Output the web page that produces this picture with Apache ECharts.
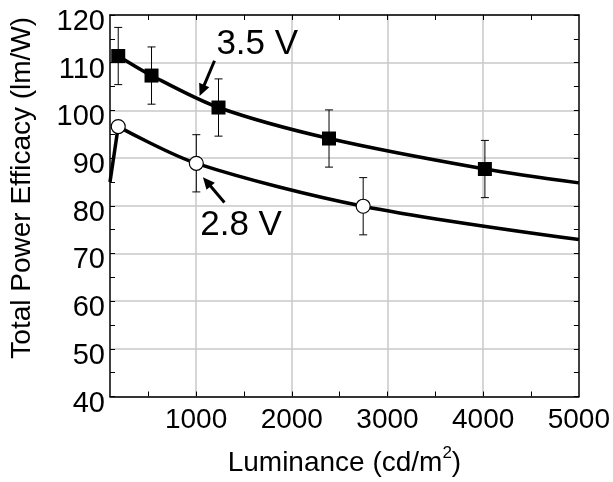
<!DOCTYPE html>
<html><head><meta charset="utf-8">
<script src="https://cdn.jsdelivr.net/npm/echarts@6/dist/echarts.min.js"></script>
<style>html,body{margin:0;padding:0;background:#fff}#c{width:613px;height:482px}</style>
</head><body><div id="c"></div>
<script>
// ---- data ----
const xLabels = [1000, 2000, 3000, 4000, 5000];
const xTicks = [500, 1000, 1500, 2000, 2500, 3000, 3500, 4000, 4500];
const xGrid = [1000, 2000, 3000, 4000];
const lum35 = [186, 534, 1234, 2389, 4018];
const eff35 = [111.4, 107.3, 100.6, 94.1, 87.7];
const err35 = [6, 6, 6, 6, 6];
const lum28 = [186, 1002, 2746];
const eff28 = [96.6, 88.9, 79.9];
const err28 = [0, 6, 6];
const fit35X = [186, 534, 1234, 2389, 4018, 5000];
const fit35Y = [111.4, 107.3, 100.6, 94.1, 87.7, 84.8];
const fit28aX = [100, 186];
const fit28aY = [85.0, 96.6];
const fit28bX = [186, 1002, 2746, 5000];
const fit28bY = [96.6, 88.9, 79.9, 72.9];
const annoText = ['3.5 V', '2.8 V'];
const annoPos = [[1639, 113.8], [1470, 75.9]];
const arrowFrom = [[1192, 110.4], [1296, 80.7]];
const arrowTo = [[1036, 103.0], [1071, 86.0]];

const FF = '"Liberation Sans", Arial, sans-serif';
const pair = (xs, ys) => xs.map((x, i) => [x, ys[i]]);
const errData = (xs, ys, es) => xs.map((x, i) => [x, ys[i] - es[i], ys[i] + es[i]]).filter((d, i) => es[i] > 0);

function errItem(params, api) {
  const x = api.value(0), lo = api.value(1), hi = api.value(2);
  const t = api.coord([x, hi]), b = api.coord([x, lo]);
  const w = 4, st = { stroke: '#000', lineWidth: 1 };
  return { type: 'group', children: [
    { type: 'line', shape: { x1: t[0], y1: t[1], x2: b[0], y2: b[1] }, style: st },
    { type: 'line', shape: { x1: t[0] - w, y1: t[1], x2: t[0] + w, y2: t[1] }, style: st },
    { type: 'line', shape: { x1: b[0] - w, y1: b[1], x2: b[0] + w, y2: b[1] }, style: st }
  ]};
}

const axLine = { show: true, onZero: false, lineStyle: { color: '#000', width: 1.5 } };
const tick = { show: true, inside: true, length: 5, lineStyle: { color: '#000', width: 1 } };

const chart = echarts.init(document.getElementById('c'), null, { renderer: 'canvas' });
chart.setOption({
  animation: false,
  backgroundColor: '#fff',
  grid: { left: 110, top: 15, right: 32, bottom: 79, containLabel: false },
  xAxis: [
    { type: 'value', min: 100, max: 5000, position: 'bottom', axisLine: axLine,
      axisTick: Object.assign({}, tick, { customValues: xTicks }),
      axisLabel: { customValues: xLabels, formatter: v => String(v), fontSize: 28, color: '#000', margin: 10, fontFamily: FF },
      splitLine: { show: false },
      name: 'Luminance (cd/m{sup|2})', nameLocation: 'middle', nameGap: 48,
      nameTextStyle: { fontSize: 28, color: '#000', fontFamily: FF,
        rich: { sup: { fontSize: 17, color: '#000', fontFamily: FF, padding: [0, 0, 20, 0] } } } },
    { type: 'value', min: 100, max: 5000, position: 'top', axisLine: axLine,
      axisTick: Object.assign({}, tick, { customValues: xTicks }),
      axisLabel: { show: false }, splitLine: { show: false } },
    { type: 'value', min: 100, max: 5000, position: 'bottom', axisLine: { show: false },
      axisTick: { show: false, customValues: xGrid }, axisLabel: { show: false },
      splitLine: { show: true, lineStyle: { color: '#c8c8c8', width: 1.5 } } }
  ],
  yAxis: [
    { type: 'value', min: 40, max: 120, interval: 10, position: 'left', axisLine: axLine,
      axisTick: tick, minorTick: { show: true, splitNumber: 2, length: 5, lineStyle: { color: '#000', width: 1 } },
      axisLabel: { fontSize: 29, color: '#000', margin: 5, fontFamily: FF, verticalAlign: 'top', lineHeight: 14 },
      splitLine: { show: true, lineStyle: { color: '#c8c8c8', width: 1.5 } },
      minorSplitLine: { show: false },
      name: 'Total Power Efficacy (lm/W)', nameLocation: 'middle', nameGap: 74,
      nameTextStyle: { fontSize: 28, color: '#000', fontFamily: FF, padding: [0, 0, 0, 36] } },
    { type: 'value', min: 40, max: 120, interval: 10, position: 'right', axisLine: axLine,
      axisTick: tick, minorTick: { show: true, splitNumber: 2, length: 5, lineStyle: { color: '#000', width: 1 } },
      axisLabel: { show: false }, splitLine: { show: false } }
  ],
  series: [
    { type: 'custom', renderItem: errItem, data: errData(lum35, eff35, err35), z: 1, encode: { x: 0, y: [1, 2] } },
    { type: 'custom', renderItem: errItem, data: errData(lum28, eff28, err28), z: 1, encode: { x: 0, y: [1, 2] } },
    { type: 'line', data: pair(fit35X, fit35Y), smooth: 0.3, showSymbol: false, symbol: 'none',
      lineStyle: { color: '#000', width: 3.5 }, z: 2 },
    { type: 'line', data: pair(fit28aX, fit28aY), smooth: false, showSymbol: false, symbol: 'none',
      lineStyle: { color: '#000', width: 3.5 }, z: 2 },
    { type: 'line', data: pair(fit28bX, fit28bY), smooth: 0.3, showSymbol: false, symbol: 'none',
      lineStyle: { color: '#000', width: 3.5 }, z: 2 },
    { type: 'scatter', data: pair(lum35, eff35), symbol: 'rect', symbolSize: 14,
      itemStyle: { color: '#000', opacity: 1 }, z: 3 },
    { type: 'scatter', data: pair(lum28, eff28), symbol: 'circle', symbolSize: 14,
      itemStyle: { color: '#fff', borderColor: '#000', borderWidth: 1.2, opacity: 1 }, z: 3 }
  ]
});

const px = p => chart.convertToPixel({ xAxisIndex: 0, yAxisIndex: 0 }, p);
const graphics = [];
annoText.forEach((t, i) => {
  const p = px(annoPos[i]);
  graphics.push({ type: 'text', x: p[0], y: p[1], z: 10,
    style: { text: t, fontSize: 35, fontFamily: FF, fill: '#000', align: 'center', verticalAlign: 'middle' } });
  const a = px(arrowFrom[i]), b = px(arrowTo[i]);
  const dx = b[0] - a[0], dy = b[1] - a[1], L = Math.hypot(dx, dy);
  const ux = dx / L, uy = dy / L, hl = 12, hw = 5.5;
  const bx = b[0] - ux * hl, by = b[1] - uy * hl;
  graphics.push({ type: 'line', z: 10, shape: { x1: a[0], y1: a[1], x2: bx + ux * 2, y2: by + uy * 2 },
    style: { stroke: '#000', lineWidth: 3 } });
  graphics.push({ type: 'polygon', z: 10,
    shape: { points: [[b[0], b[1]], [bx - uy * hw, by + ux * hw], [bx + uy * hw, by - ux * hw]] },
    style: { fill: '#000' } });
});
chart.setOption({ graphic: graphics });
</script></body></html>
